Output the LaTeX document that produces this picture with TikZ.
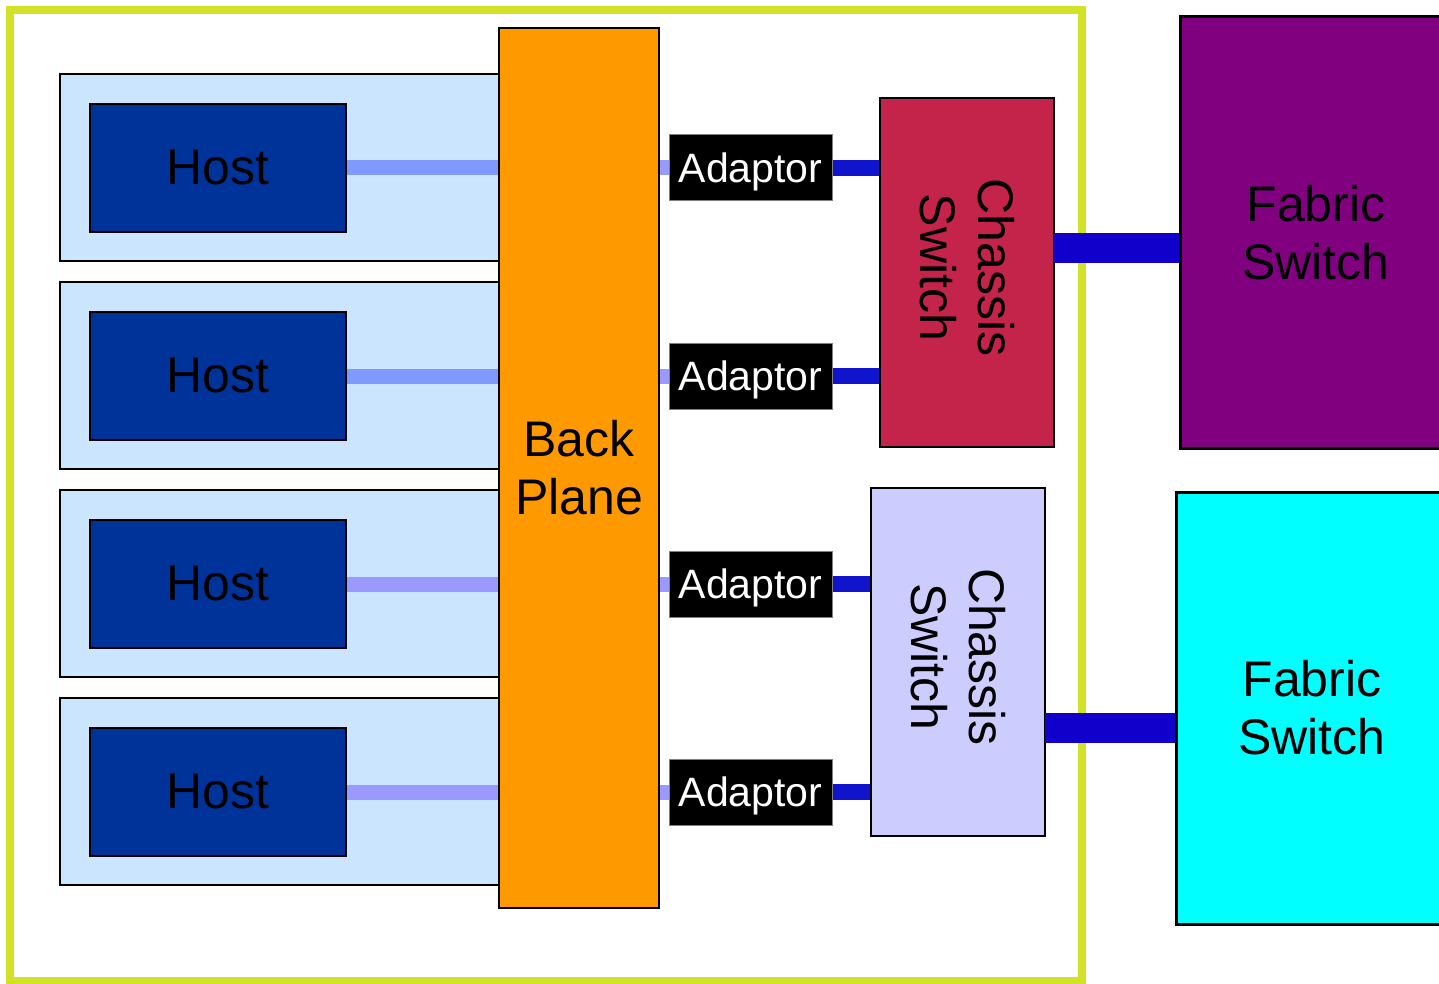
\documentclass[tikz,border=0pt]{standalone}
\usepackage{fontspec}
\setmainfont{Liberation Sans}
\usetikzlibrary{calc}

\definecolor{frameyellow}{RGB}{210,226,38}
\definecolor{slotblue}{RGB}{204,229,255}
\definecolor{hostblue}{RGB}{0,51,153}
\definecolor{linkperi}{RGB}{128,153,255}
\definecolor{linklav}{RGB}{153,153,255}
\definecolor{planeorange}{RGB}{255,153,0}
\definecolor{adaptorlink}{RGB}{16,20,204}
\definecolor{fabriclink}{RGB}{17,0,204}
\definecolor{chassisred}{RGB}{196,36,74}
\definecolor{chassislilac}{RGB}{204,204,255}
\definecolor{fabricpurple}{RGB}{128,0,128}
\definecolor{fabriccyan}{RGB}{0,255,255}

\begin{document}
\begin{tikzpicture}[x=1pt,y=-1pt,
	box/.style={draw=black,line width=2pt,inner sep=0pt,align=center,font=\fontsize{50}{58}\selectfont},
	slot/.style={box,fill=slotblue,minimum width=439pt,minimum height=187pt},
	host/.style={box,fill=hostblue,line width=2.5pt,minimum width=256pt,minimum height=128pt},
	adaptor/.style={draw=gray,line width=1pt,fill=black,text=white,inner sep=0pt,text depth=0pt,minimum width=163pt,minimum height=66pt,font=\fontsize{41}{48}\selectfont},
	chassis/.style={box,minimum width=174pt,minimum height=349pt},
	fabric/.style={box,line width=3pt,minimum width=272pt,minimum height=432pt},
	sidetext/.style={rotate=-90,align=center,inner sep=0pt,font=\fontsize{50}{58}\selectfont}]
	
	\useasboundingbox (0,0) rectangle (1439,984);
	\clip (0,0) rectangle (1439,984);
	
	% Enclosure
	\draw[frameyellow,line width=7.5pt] (10,10) rectangle (1082,981);
	
	% Slots and hosts
	\node[slot] (slot1) at (279.5,167.5) {};
	\node[slot] (slot2) at (279.5,375.5) {};
	\node[slot] (slot3) at (279.5,583.5) {};
	\node[slot] (slot4) at (279.5,791.5) {};
	
	\node[host] (host1) at (218,168) {Host};
	\node[host] (host2) at (218,376) {Host};
	\node[host] (host3) at (218,584) {Host};
	\node[host] (host4) at (218,792) {Host};
	
	% Back plane
	\node[box,fill=planeorange,minimum width=160pt,minimum height=880pt] (bp) at (579,468) {Back\\Plane};
	
	\draw[linkperi,line width=15pt] (host1.east) -- (host1 -| bp.west);
	\draw[linkperi,line width=15pt] (host2.east) -- (host2 -| bp.west);
	\draw[linklav,line width=15pt] (host3.east) -- (host3 -| bp.west);
	\draw[linklav,line width=15pt] (host4.east) -- (host4 -| bp.west);
	
	% Adaptors
	\node[adaptor] (ad1) at (750.5,168) {Adaptor};
	\node[adaptor] (ad2) at (750.5,376) {Adaptor};
	\node[adaptor] (ad3) at (750.5,584) {Adaptor};
	\node[adaptor] (ad4) at (750.5,792) {Adaptor};
	
	\draw[linklav,line width=15pt] (ad1 -| bp.east) -- (ad1.west);
	\draw[linklav,line width=15pt] (ad2 -| bp.east) -- (ad2.west);
	\draw[linklav,line width=15pt] (ad3 -| bp.east) -- (ad3.west);
	\draw[linklav,line width=15pt] (ad4 -| bp.east) -- (ad4.west);
	
	% Chassis switches
	\node[chassis,fill=chassisred] (cs1) at (967,272.5) {};
	\node[sidetext] (cs1text) at ($(cs1)+(0,-5)$) {Chassis\\Switch};
	\node[chassis,fill=chassislilac,minimum height=348pt] (cs2) at (958,662) {};
	\node[sidetext] (cs2text) at ($(cs2)+(0,-5)$) {Chassis\\Switch};
	
	\draw[adaptorlink,line width=16pt] (ad1.east) -- (ad1 -| cs1.west);
	\draw[adaptorlink,line width=16pt] (ad2.east) -- (ad2 -| cs1.west);
	\draw[adaptorlink,line width=16pt] (ad3.east) -- (ad3 -| cs2.west);
	\draw[adaptorlink,line width=16pt] (ad4.east) -- (ad4 -| cs2.west);
	
	% Fabric switches
	\node[fabric,fill=fabricpurple,minimum height=431pt] (fs1) at (1316,232.5) {Fabric\\Switch};
	\node[fabric,fill=fabriccyan] (fs2) at (1312,708) {Fabric\\Switch};
	
	\coordinate (up1) at (1054,248);
	\coordinate (up2) at (1045,728);
	\draw[fabriclink,line width=30pt] (up1) -- (up1 -| fs1.west);
	\draw[fabriclink,line width=30pt] (up2) -- (up2 -| fs2.west);
	
\end{tikzpicture}
\end{document}
